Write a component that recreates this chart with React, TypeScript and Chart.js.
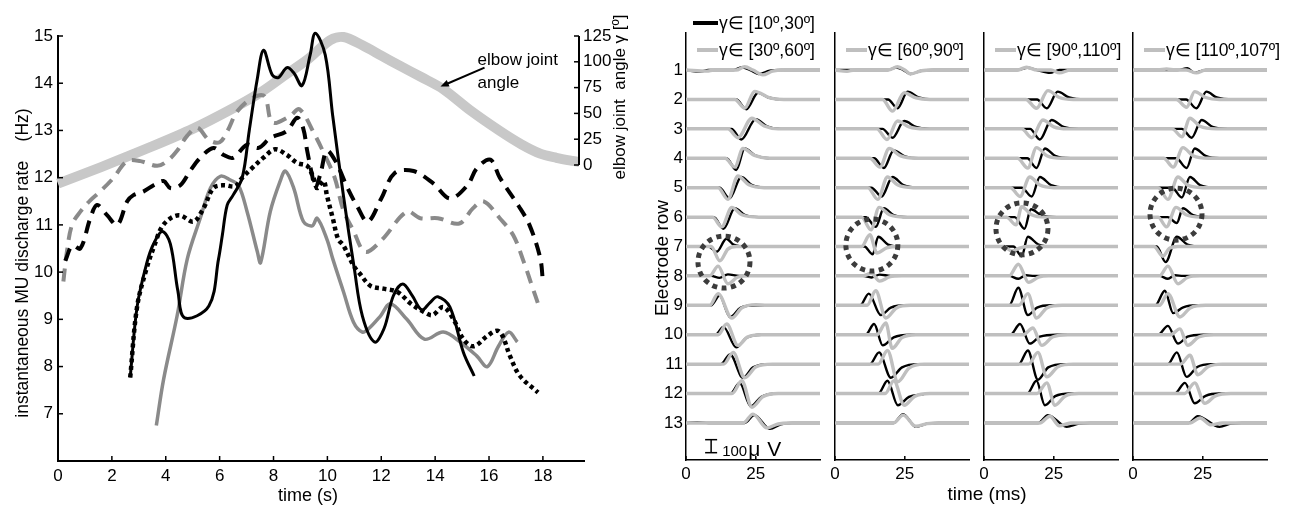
import React, { useEffect, useRef } from 'react';
import { Chart, registerables } from 'chart.js';

Chart.register(...registerables);

const FONT = "'Liberation Sans', Arial, Helvetica, sans-serif";

// ---------------- Left panel: discharge rates + elbow angle ----------------
const TIME_TICKS = [0, 2, 4, 6, 8, 10, 12, 14, 16, 18];
const RATE_TICKS = [7, 8, 9, 10, 11, 12, 13, 14, 15];
const ANGLE_TICKS = [0, 25, 50, 75, 100, 125];

const T_BLACK_SOLID = [2.68, 2.94, 3.3, 3.55, 3.87, 4.17, 4.45, 4.7, 5.6, 5.96, 6.1, 6.28, 6.5, 6.84, 7.1, 7.4, 7.63, 7.95, 8.18, 8.5, 8.75, 9.06, 9.36, 9.55, 9.92, 10.2, 10.6, 11.0, 11.3, 11.75, 12.1, 12.45, 12.8, 13.15, 13.5, 13.8, 14.1, 14.55, 15.05, 15.45];
const V_BLACK_SOLID = [7.77, 9.28, 10.2, 10.6, 10.86, 10.6, 9.6, 9.03, 9.28, 10.28, 10.78, 11.42, 11.63, 12.0, 13.0, 14.1, 14.7, 14.18, 14.12, 14.33, 14.22, 13.95, 14.6, 15.06, 14.6, 13.3, 11.6, 10.07, 9.07, 8.52, 8.8, 9.5, 9.75, 9.5, 9.2, 9.35, 9.48, 9.26, 8.3, 7.8];

const T_GRAY_SOLID = [3.65, 3.92, 4.42, 4.8, 5.28, 5.66, 6.03, 6.4, 6.7, 7.02, 7.4, 7.52, 7.88, 8.25, 8.44, 8.75, 9.11, 9.44, 9.62, 9.98, 10.2, 10.6, 10.97, 11.3, 11.53, 11.97, 12.34, 12.95, 13.6, 14.3, 14.93, 15.55, 15.94, 16.35, 16.73, 17.05];
const V_GRAY_SOLID = [6.75, 7.73, 9.07, 10.28, 11.14, 11.78, 12.03, 11.95, 11.84, 11.28, 10.43, 10.2, 11.28, 11.93, 12.14, 11.78, 11.07, 10.98, 11.14, 10.7, 10.28, 9.58, 8.94, 8.73, 8.8, 9.07, 9.33, 9.0, 8.58, 8.73, 8.52, 8.22, 8.0, 8.43, 8.73, 8.52];

const T_BLACK_DOTTED = [2.68, 2.94, 3.3, 3.6, 3.85, 4.2, 4.54, 5.03, 5.4, 5.77, 6.15, 6.58, 6.84, 7.2, 7.62, 8.06, 8.5, 8.88, 9.25, 9.48, 9.62, 9.86, 9.98, 10.2, 10.4, 10.6, 10.97, 11.2, 11.6, 12.08, 12.6, 13.1, 13.57, 13.9, 14.3, 14.68, 15.05, 15.43, 15.94, 16.3, 16.5, 16.78, 17.15, 17.82];
const V_BLACK_DOTTED = [7.77, 9.28, 10.1, 10.6, 10.95, 11.15, 11.2, 11.07, 11.35, 11.78, 11.84, 11.82, 12.0, 12.2, 12.42, 12.6, 12.48, 12.31, 12.25, 12.0, 11.78, 11.93, 11.63, 11.14, 10.7, 10.56, 10.14, 9.97, 9.71, 9.65, 9.58, 9.33, 9.16, 9.09, 9.26, 9.0, 8.58, 8.43, 8.65, 8.76, 8.65, 8.22, 7.8, 7.45];

const T_BLACK_DASHED = [0.27, 0.53, 0.83, 1.2, 1.45, 1.83, 2.2, 2.57, 2.8, 3.18, 3.55, 3.92, 4.17, 4.54, 4.9, 5.28, 5.77, 6.15, 6.5, 7.02, 7.44, 7.88, 8.5, 8.88, 9.1, 9.25, 9.43, 9.55, 9.75, 9.98, 10.3, 10.75, 11.1, 11.5, 12.0, 12.5, 13.2, 13.93, 14.55, 15.2, 15.55, 16.05, 16.4, 17.1, 17.5, 17.9, 18.0];
const V_BLACK_DASHED = [10.24, 10.56, 10.5, 11.14, 11.42, 11.2, 11.0, 11.5, 11.63, 11.71, 11.84, 11.93, 11.78, 11.84, 12.14, 12.42, 12.63, 12.48, 12.42, 12.7, 12.63, 12.84, 12.99, 13.27, 13.05, 12.57, 12.06, 11.78, 12.1, 12.57, 12.35, 11.78, 11.4, 11.07, 11.56, 12.1, 12.14, 11.88, 11.56, 11.84, 12.2, 12.38, 12.0, 11.4, 11.0, 10.3, 9.8];

const T_GRAY_DASHED = [0.2, 0.33, 0.52, 0.83, 1.2, 1.57, 2.05, 2.57, 3.06, 3.68, 4.05, 4.42, 4.8, 5.17, 5.6, 6.0, 6.3, 6.65, 7.25, 7.67, 7.96, 8.6, 8.96, 9.52, 9.9, 10.27, 10.6, 10.95, 11.4, 12.0, 12.95, 13.45, 14.1, 14.9, 15.4, 15.8, 16.4, 16.9, 17.3, 17.6, 17.85];
const V_GRAY_DASHED = [9.8, 10.43, 11.0, 11.28, 11.52, 11.71, 11.99, 12.35, 12.35, 12.25, 12.35, 12.57, 12.89, 13.06, 12.8, 12.75, 13.0, 13.4, 13.7, 13.72, 13.17, 13.3, 13.45, 12.92, 12.48, 12.0, 11.3, 10.9, 10.43, 10.67, 11.28, 11.14, 11.14, 11.03, 11.35, 11.5, 11.14, 10.78, 10.2, 9.7, 9.28];

const T_ELBOW = [0, 1.6, 3.4, 5, 6.5, 7.5, 8.37, 9.3, 10.1, 10.6, 11.3, 12.0, 12.7, 13.5, 14.3, 15.3, 16.4, 17.2, 17.9, 18.5, 19.1, 19.35];
const V_ELBOW = [-18, -2, 17, 35, 55, 70, 86, 103, 121, 124, 116, 106, 96, 85, 73.5, 53, 33, 20, 11, 7, 4, 3];

// ---------------- Right panel: MUAP waveforms per electrode row ----------------
const ROW_LABELS = [1, 2, 3, 4, 5, 6, 7, 8, 9, 10, 11, 12, 13];
const MS_TICKS = [0, 25];
const UV_PER_ROW = 226;
const SCALE_BAR_UV = 100;
const SCALE_BAR_T = 9;
const SCALE_BAR_ROW = 13.79;

const LEGEND_TEXT = [
  ['γ∈ [10º,30º]', 'γ∈ [30º,60º]'],
  ['γ∈ [60º,90º]'],
  ['γ∈ [90º,110º]'],
  ['γ∈ [110º,107º]'],
];

const CIRCLE_T = [13.6, 13.2, 13.6, 15.4];
const CIRCLE_ROW = [7.53, 6.95, 6.4, 5.9];

// each waveform: flat list of (time ms, amplitude µV) pairs
const BLACK_WAVES_1 = [
  [0, 0, 5, -12, 8, 0, 17, 0, 20, 22, 23, 0, 26, -30, 30, -5, 34, 0, 48, 0],
  [0, 0, 18, 0, 21.6, -75, 25.8, 52, 29.5, 15, 35, 0, 48, 0],
  [0, 0, 16.3, 0, 19.8, -82, 25, 75, 29, 20, 34, 0, 48, 0],
  [0, 0, 14.5, 0, 18, -90, 21, 75, 25, 20, 30, 0, 48, 0],
  [0, 0, 12, 0, 15.6, -82, 19.8, 82, 23.5, 22, 29, 0, 48, 0],
  [0, 0, 10, 0, 13.4, -90, 17.5, 68, 21, 18, 26, 0, 48, 0],
  [0, 0, 8, 0, 11, -40, 14.5, 60, 17, 15, 22, 0, 48, 0],
  [0, 0, 9, 0, 12, -15, 15, 12, 19, 0, 48, 0],
  [0, 0, 9, 0, 12, 75, 15.8, -90, 19.5, -20, 25, 0, 48, 0],
  [0, 0, 10.5, 0, 13.4, 60, 18, -97, 21.5, -25, 27, 0, 48, 0],
  [0, 0, 12.5, 0, 15.8, 75, 20.4, -105, 24, -25, 30, 0, 48, 0],
  [0, 0, 16, 0, 19.2, 82, 23.2, -98, 27, -25, 33, 0, 48, 0],
  [0, 0, 4, 5, 8, 0, 21, 0, 24.5, 60, 30, -45, 34, -10, 38, 0, 48, 0],
];
const GRAY_WAVES_1 = [
  [0, 0, 7.5, -8, 10, 0, 18, 0, 21, 25, 24, 0, 27.5, -37, 31, -8, 35, 0, 48, 0],
  [0, 0, 17.5, 0, 21, -67, 24.6, 62, 30, 12, 35, 0, 48, 0],
  [0, 0, 15, 0, 18.6, -68, 23.6, 82, 28, 22, 33, 0, 48, 0],
  [0, 0, 14, 0, 17.5, -68, 20.4, 75, 24.5, 22, 30, 0, 48, 0],
  [0, 0, 11.5, 0, 15, -90, 18.6, 90, 22.5, 22, 28, 0, 48, 0],
  [0, 0, 9.5, 0, 12.8, -75, 16.4, 75, 20, 18, 26, 0, 48, 0],
  [0, 0, 9, 0, 12.1, -110, 15, -20, 18, 0, 48, 0],
  [0, 0, 8.5, 0, 11.5, 75, 15, -60, 18.5, -10, 23, 0, 48, 0],
  [0, 0, 8.5, 0, 11.5, 90, 16.4, -98, 20, -20, 25, 5, 29, 0, 48, 0],
  [0, 0, 11.5, 0, 14.6, 82, 18.6, -82, 22, -18, 27, 0, 48, 0],
  [0, 0, 13.5, 0, 16.9, 90, 21, -105, 25, -22, 31, 0, 48, 0],
  [0, 0, 16.5, 0, 20, 98, 23.6, -105, 27.5, -25, 33, 0, 48, 0],
  [0, 0, 20.5, 0, 24, 68, 29, -38, 33, -8, 37, 0, 48, 0],
];
const BLACK_WAVES_2 = [
  [0, 0, 19, 0, 22, 20, 24.5, 0, 27, -30, 31, -5, 35, 0, 48, 0],
  [0, 0, 19, 0, 22.4, -68, 26, 60, 30, 15, 35, 0, 48, 0],
  [0, 0, 17, 0, 20.6, -68, 24.8, 60, 29, 15, 34, 0, 48, 0],
  [0, 0, 14, 0, 17.5, -75, 21, 60, 25, 15, 30, 0, 48, 0],
  [0, 0, 13, 0, 16.7, -68, 20.6, 82, 24.5, 20, 30, 0, 48, 0],
  [0, 0, 11, 0, 14.6, -75, 17.5, 68, 21, 15, 26, 0, 48, 0],
  [0, 0, 10.5, 0, 13.5, -60, 15.5, 75, 19, 15, 24, 0, 48, 0],
  [0, 0, 10, 0, 13, -12, 16, 10, 20, 0, 48, 0],
  [0, 0, 9, 0, 12.1, 90, 16.4, -75, 20, -18, 26, 0, 48, 0],
  [0, 0, 11, 0, 14, 82, 17.1, -82, 21, -20, 27, 0, 48, 0],
  [0, 0, 12.5, 0, 15.8, 90, 20, -105, 24, -25, 30, 0, 48, 0],
  [0, 0, 15.5, 0, 18.8, 98, 22.5, -90, 26.5, -25, 31.5, -6],
  [0, 0, 21, 0, 24.4, 68, 29, -30, 33, -5, 37, 0, 48, 0],
];
const GRAY_WAVES_2 = [
  [0, 0, 4.3, -10, 7, 0, 19, 0, 22.4, 25, 25, 0, 27, -30, 31, -5, 35, 0, 48, 0],
  [0, 0, 17, 0, 20.6, -90, 24.8, 52, 29, 12, 34, 0, 48, 0],
  [0, 0, 15, 0, 18.6, -82, 22.4, 60, 26.5, 15, 32, 0, 48, 0],
  [0, 0, 12.5, 0, 16.1, -68, 19.4, 75, 23.5, 18, 29, 0, 48, 0],
  [0, 0, 11.8, 0, 15.3, -90, 18.8, 82, 22.5, 20, 28, 0, 48, 0],
  [0, 0, 9.5, 0, 12.9, -98, 15.8, 75, 19.5, 18, 25, 0, 48, 0],
  [0, 0, 9.5, 0, 12.5, 90, 15, -50, 18.5, -10, 23, 0, 48, 0],
  [0, 0, 10, 0, 13, 20, 16, -40, 19.5, -8, 24, 0, 48, 0],
  [0, 0, 11.5, 0, 14.6, 112, 18.2, -98, 22, -20, 27, 0, 48, 0],
  [0, 0, 15, 0, 18.2, 90, 20.5, -105, 24, -22, 29, 0, 48, 0],
  [0, 0, 15.5, 0, 18.8, 105, 22.5, -135, 26.5, -30, 32, 0, 48, 0],
  [0, 0, 18, 0, 21.1, 98, 24.8, -90, 28.5, -22, 34, 0, 48, 0],
  [0, 0, 21, 0, 24.4, 60, 29, -25, 33, -5, 37, 0, 48, 0],
];
const BLACK_WAVES_3 = [
  [0, 0, 12, 0, 15.5, 18, 19, 0, 23.6, -22, 27, 0, 48, 0],
  [0, 0, 19, 0, 22.5, -68, 26.4, 60, 30.5, 15, 36, 0, 48, 0],
  [0, 0, 16.5, 0, 20, -82, 24.2, 68, 28.5, 15, 34, 0, 48, 0],
  [0, 0, 15.5, 0, 18.8, -75, 21.8, 75, 25.5, 18, 31, 0, 48, 0],
  [0, 0, 13.5, 0, 17.1, -68, 20, 82, 24, 20, 29, 0, 48, 0],
  [0, 0, 11, 0, 14.5, -90, 16.8, 60, 20.5, 15, 26, 0, 48, 0],
  [0, 0, 10.5, 0, 13.5, -75, 15.7, 75, 19.5, 15, 25, 0, 48, 0],
  [0, 0, 9, 0, 12.3, -22, 15, 5, 18, 0, 48, 0],
  [0, 0, 9, 0, 12.3, 135, 15.7, -75, 19, -18, 24, 0, 48, 0],
  [0, 0, 9.5, 0, 12.9, 82, 16.4, -68, 20, -15, 26, 0, 48, 0],
  [0, 0, 12.5, 0, 15.7, 105, 19.3, -120, 23, -25, 29, 0, 48, 0],
  [0, 0, 15.5, 0, 18.8, 98, 21.8, -90, 25.5, -20, 31, 0, 48, 0],
  [0, 0, 19.5, 0, 22.9, 60, 29.6, -30, 34, -5, 38, 0, 48, 0],
];
const GRAY_WAVES_3 = [
  [0, 0, 12, 0, 15.2, 22, 19, 0, 24, 0, 27, -22, 31, 0, 48, 0],
  [0, 0, 15, 0, 18.8, -68, 22.9, 68, 27, 15, 32, 0, 48, 0],
  [0, 0, 13.5, 0, 17.1, -68, 21.1, 68, 25, 15, 30, 0, 48, 0],
  [0, 0, 12, 0, 15.7, -75, 18.8, 82, 22.5, 20, 28, 0, 48, 0],
  [0, 0, 9.5, 0, 12.9, -68, 16.4, 82, 20, 20, 25, 0, 48, 0],
  [0, 0, 8, 0, 11.5, -60, 13.5, 80, 17, 18, 22, 0, 48, 0],
  [0, 0, 7, 0, 10, -35, 13, -10, 16, 0, 48, 0],
  [0, 0, 9, 0, 12.3, 90, 16, -50, 19.5, -10, 23, 0, 48, 0],
  [0, 0, 12.5, 0, 15.7, 90, 18.8, -98, 22.5, -20, 28, 0, 48, 0],
  [0, 0, 14, 0, 17.5, 52, 20.7, -82, 24.5, -18, 30, 0, 48, 0],
  [0, 0, 16, 0, 19.3, 90, 22.5, -98, 26.5, -20, 32, 0, 48, 0],
  [0, 0, 19, 0, 22.5, 82, 25.4, -90, 29, -20, 34, 0, 48, 0],
  [0, 0, 20, 0, 23.6, 52, 27, -22, 31, 0, 48, 0],
];
const BLACK_WAVES_4 = [
  [0, 0, 16, 0, 19.5, 15, 22, -22, 26, 0, 48, 0],
  [0, 0, 19, 0, 22.7, -68, 26.3, 60, 30, 15, 36, 0, 48, 0],
  [0, 0, 17.5, 0, 21, -68, 24.6, 68, 28.5, 15, 34, 0, 48, 0],
  [0, 0, 15.5, 0, 19.2, -75, 22.1, 75, 26, 18, 31, 0, 48, 0],
  [0, 0, 14, 0, 17.5, -75, 20.4, 82, 24, 20, 29, 0, 48, 0],
  [0, 0, 12.5, 0, 15.7, -45, 17.9, 68, 21.5, 15, 27, 0, 48, 0],
  [0, 0, 8.5, 0, 11.7, -120, 15.7, 75, 19.5, 15, 25, 0, 48, 0],
  [0, 0, 9.5, 0, 12.5, -22, 15, 5, 18, 0, 48, 0],
  [0, 0, 8, 0, 11.4, 112, 14.4, -60, 18, -15, 23, 0, 48, 0],
  [0, 0, 9, 0, 12.5, 68, 16.1, -68, 19.5, -15, 25, 0, 48, 0],
  [0, 0, 12.5, 0, 15.7, 90, 19.2, -98, 23, -22, 28, 0, 48, 0],
  [0, 0, 15, 0, 18.6, 82, 22.1, -75, 26, -18, 31, 0, 48, 0],
  [0, 0, 20, 0, 23.2, 52, 31, -30, 35, -5, 39, 0, 48, 0],
];
const GRAY_WAVES_4 = [
  [0, 0, 9, 0, 12, 8, 15, 0, 19, 0, 22.7, -22, 26, 0, 48, 0],
  [0, 0, 15.5, 0, 19.2, -60, 22.1, 60, 26, 15, 31, 0, 48, 0],
  [0, 0, 14, 0, 17.5, -60, 20.4, 82, 24, 20, 30, 0, 48, 0],
  [0, 0, 11, 0, 14.4, -68, 17.9, 82, 21.5, 20, 27, 0, 48, 0],
  [0, 0, 9, 0, 12.5, -90, 16.1, 82, 19.5, 20, 25, 0, 48, 0],
  [0, 0, 9, 0, 12, -75, 15.4, 75, 19, 18, 24, 0, 48, 0],
  [0, 0, 7.5, 0, 10.7, -75, 13, -15, 16, 0, 48, 0],
  [0, 0, 9.5, 0, 12.5, 75, 16.1, -60, 19.5, -12, 24, 0, 48, 0],
  [0, 0, 9.5, 0, 12.5, 90, 16.8, -90, 20.5, -20, 26, 0, 48, 0],
  [0, 0, 13.5, 0, 16.8, 45, 19.6, -82, 23.5, -18, 29, 0, 48, 0],
  [0, 0, 17, 0, 20.4, 68, 23.2, -82, 27, -18, 32, 0, 48, 0],
  [0, 0, 18.5, 0, 22.1, 82, 25.7, -75, 29.5, -18, 35, 0, 48, 0],
  [0, 0, 20.5, 0, 24, 38, 28, -15, 32, 0, 48, 0],
];

const BLACK_WAVES = [BLACK_WAVES_1, BLACK_WAVES_2, BLACK_WAVES_3, BLACK_WAVES_4];
const GRAY_WAVES = [GRAY_WAVES_1, GRAY_WAVES_2, GRAY_WAVES_3, GRAY_WAVES_4];

// ---------------- layout (page pixels) ----------------
const W = 1289;
const H = 506;
const L_LEFT = 58;
const L_RIGHT = 579;
const L_TOP = 36;
const L_BOTTOM = 461;
const TIME_MAX = 19.34;
const ANGLE_MAX = 125;
const ANGLE_MIN = 125 - (L_BOTTOM - L_TOP) / (129 / 125);

const SUB_LEFT = [686, 835, 984, 1133];
const SUB_W = 134;
const SUB_TOP = 33;
const SUB_BOTTOM = 460;
const MS_MAX = 48;

const GRAY_LIGHT = '#bfbfbf';
const GRAY_MID = '#8a8a8a';

function pairs(ts: number[], vs: number[]) {
  return ts.map((t, i) => ({ x: t, y: vs[i] }));
}

function wavePoints(flat: number[], row: number) {
  const out: { x: number; y: number }[] = [];
  for (let i = 0; i < flat.length; i += 2) {
    out.push({ x: flat[i], y: row - flat[i + 1] / UV_PER_ROW });
  }
  return out;
}

function seg(ctx: CanvasRenderingContext2D, x1: number, y1: number, x2: number, y2: number) {
  ctx.beginPath();
  ctx.moveTo(x1, y1);
  ctx.lineTo(x2, y2);
  ctx.stroke();
}

function rotText(ctx: CanvasRenderingContext2D, text: string, x: number, y: number, font: string) {
  ctx.save();
  ctx.translate(x, y);
  ctx.rotate(-Math.PI / 2);
  ctx.font = font;
  ctx.textAlign = 'center';
  ctx.textBaseline = 'middle';
  ctx.fillText(text, 0, 0);
  ctx.restore();
}

const leftDecor = {
  id: 'leftDecor',
  afterDraw(chart: any) {
    const { ctx, chartArea: a, scales } = chart;
    const xs = scales.x, ys = scales.y, y1 = scales.y1;
    ctx.save();
    ctx.strokeStyle = '#000';
    ctx.fillStyle = '#000';
    ctx.lineWidth = 1.5;
    TIME_TICKS.forEach((v) => {
      const px = xs.getPixelForValue(v);
      seg(ctx, px, a.bottom, px, a.bottom - 5);
    });
    RATE_TICKS.forEach((v) => {
      const py = ys.getPixelForValue(v);
      seg(ctx, a.left, py, a.left + 5, py);
    });
    ctx.lineWidth = 2;
    seg(ctx, a.right, y1.getPixelForValue(0), a.right, y1.getPixelForValue(ANGLE_MAX));
    seg(ctx, a.right, a.bottom, a.right + 6, a.bottom);
    ctx.lineWidth = 1.5;
    ANGLE_TICKS.forEach((v) => {
      const py = y1.getPixelForValue(v);
      seg(ctx, a.right, py, a.right - 5, py);
    });

    // axis titles
    ctx.font = `18px ${FONT}`;
    ctx.textAlign = 'center';
    ctx.textBaseline = 'middle';
    ctx.fillText('time (s)', 308, 496);
    rotText(ctx, 'instantaneous MU discharge rate    (Hz)', 23, 263, `17.5px ${FONT}`);
    rotText(ctx, 'elbow joint  angle γ [º]', 620, 97, `17px ${FONT}`);

    // annotation with arrow
    const tipX = xs.getPixelForValue(14.2);
    const tipY = y1.getPixelForValue(76);
    const tailX = tipX + 44;
    const tailY = tipY - 19;
    ctx.lineWidth = 2;
    seg(ctx, tailX, tailY, tipX + 6, tipY - 2.6);
    const ang = Math.atan2(tipY - tailY, tipX - tailX);
    ctx.beginPath();
    ctx.moveTo(tipX, tipY);
    ctx.lineTo(tipX - 9 * Math.cos(ang - 0.4), tipY - 9 * Math.sin(ang - 0.4));
    ctx.lineTo(tipX - 9 * Math.cos(ang + 0.4), tipY - 9 * Math.sin(ang + 0.4));
    ctx.closePath();
    ctx.fill();
    ctx.font = `17px ${FONT}`;
    ctx.textAlign = 'left';
    ctx.fillText('elbow joint', tipX + 37, tipY - 26);
    ctx.fillText('angle', tipX + 37, tipY - 3);
    ctx.restore();
  },
};

function makeLeft(canvas: HTMLCanvasElement) {
  const common = { pointRadius: 0, fill: false, tension: 0.35, clip: false };
  return new Chart(canvas, {
    type: 'line',
    data: {
      datasets: [
        { ...common, data: pairs(T_ELBOW, V_ELBOW), yAxisID: 'y1', borderColor: '#c8c8c8', borderWidth: 10, order: 10, tension: 0.3 },
        { ...common, data: pairs(T_GRAY_SOLID, V_GRAY_SOLID), yAxisID: 'y', borderColor: GRAY_MID, borderWidth: 3.5, order: 5 },
        { ...common, data: pairs(T_GRAY_DASHED, V_GRAY_DASHED), yAxisID: 'y', borderColor: GRAY_MID, borderWidth: 4, borderDash: [13, 8], order: 4 },
        { ...common, data: pairs(T_BLACK_DASHED, V_BLACK_DASHED), yAxisID: 'y', borderColor: '#000', borderWidth: 4, borderDash: [13, 8], order: 3 },
        { ...common, data: pairs(T_BLACK_DOTTED, V_BLACK_DOTTED), yAxisID: 'y', borderColor: '#000', borderWidth: 4.5, borderDash: [4, 3.5], order: 2 },
        { ...common, data: pairs(T_BLACK_SOLID, V_BLACK_SOLID), yAxisID: 'y', borderColor: '#000', borderWidth: 3, order: 1 },
      ] as any,
    },
    options: {
      responsive: false,
      animation: false,
      events: [],
      layout: { padding: { left: 0, right: W - L_RIGHT - 61, top: L_TOP, bottom: 0 } },
      plugins: { legend: { display: false }, tooltip: { enabled: false } },
      scales: {
        x: {
          type: 'linear',
          min: 0,
          max: TIME_MAX,
          afterFit: (s: any) => { s.height = H - L_BOTTOM; },
          afterBuildTicks: (s: any) => { s.ticks = TIME_TICKS.map((v) => ({ value: v })); },
          grid: { display: false, drawTicks: false },
          border: { display: true, color: '#000', width: 2 },
          ticks: { color: '#000', font: { size: 17 }, padding: 5, maxRotation: 0, autoSkip: false },
        },
        y: {
          type: 'linear',
          position: 'left',
          min: 6,
          max: 15,
          afterFit: (s: any) => { s.width = L_LEFT; },
          afterBuildTicks: (s: any) => { s.ticks = RATE_TICKS.map((v) => ({ value: v })); },
          grid: { display: false, drawTicks: false },
          border: { display: true, color: '#000', width: 2 },
          ticks: { color: '#000', font: { size: 17 }, padding: 5, autoSkip: false },
        },
        y1: {
          type: 'linear',
          position: 'right',
          min: ANGLE_MIN,
          max: ANGLE_MAX,
          afterFit: (s: any) => { s.width = 61; },
          afterBuildTicks: (s: any) => { s.ticks = ANGLE_TICKS.map((v) => ({ value: v })); },
          grid: { display: false, drawTicks: false },
          border: { display: false },
          ticks: { color: '#000', font: { size: 17 }, padding: 4, autoSkip: false },
        },
      },
    } as any,
    plugins: [leftDecor],
  });
}

function makeSubDecor(i: number) {
  return {
    id: 'subDecor' + i,
    afterDraw(chart: any) {
      const { ctx, chartArea: a, scales } = chart;
      const xs = scales.x, ys = scales.y;
      const L = SUB_LEFT[i];
      ctx.save();
      ctx.strokeStyle = '#000';
      ctx.fillStyle = '#000';
      ctx.lineWidth = 1.5;
      MS_TICKS.forEach((v) => {
        const px = xs.getPixelForValue(v);
        seg(ctx, px, a.bottom, px, a.bottom - 4);
      });

      // dotted circle
      ctx.save();
      ctx.strokeStyle = '#3c3c3c';
      ctx.lineWidth = 5;
      ctx.setLineDash([5, 4.5]);
      ctx.beginPath();
      ctx.arc(xs.getPixelForValue(CIRCLE_T[i]), ys.getPixelForValue(CIRCLE_ROW[i]), 26, 0, Math.PI * 2);
      ctx.stroke();
      ctx.restore();

      // legend entries
      ctx.font = `17.5px ${FONT}`;
      ctx.textAlign = 'left';
      ctx.textBaseline = 'middle';
      const items = LEGEND_TEXT[i];
      items.forEach((txt, k) => {
        const isBlack = i === 0 && k === 0;
        const y = isBlack ? 23 : 50;
        const x1 = isBlack ? L + 7 : L + 11;
        ctx.strokeStyle = isBlack ? '#000' : GRAY_LIGHT;
        ctx.lineWidth = 4;
        seg(ctx, x1, y, L + 32, y);
        ctx.fillStyle = '#000';
        ctx.fillText(txt, L + 33, y + 1);
      });

      if (i === 0) {
        // scale bar
        const bx = xs.getPixelForValue(SCALE_BAR_T);
        const half = SCALE_BAR_UV / 2 / UV_PER_ROW;
        const yTop = ys.getPixelForValue(SCALE_BAR_ROW - half);
        const yBot = ys.getPixelForValue(SCALE_BAR_ROW + half);
        ctx.strokeStyle = '#000';
        ctx.lineWidth = 1.5;
        seg(ctx, bx, yTop, bx, yBot);
        seg(ctx, bx - 6, yTop, bx + 6, yTop);
        seg(ctx, bx - 6, yBot, bx + 6, yBot);
        ctx.textBaseline = 'alphabetic';
        ctx.font = `15px ${FONT}`;
        ctx.fillText(String(SCALE_BAR_UV), bx + 11, yBot + 3);
        ctx.font = `21px ${FONT}`;
        ctx.fillText('μ', bx + 37, yBot + 3);
        ctx.fillText('V', bx + 56, yBot + 3);

        rotText(ctx, 'Electrode row', 663, 258, `19px ${FONT}`);
        ctx.font = `19px ${FONT}`;
        ctx.textAlign = 'center';
        ctx.textBaseline = 'middle';
        ctx.fillText('time (ms)', 987, 495);
      }
      ctx.restore();
    },
  };
}

function makeSub(canvas: HTMLCanvasElement, i: number) {
  const datasets: any[] = [];
  GRAY_WAVES[i].forEach((w, r) => {
    datasets.push({ data: wavePoints(w, ROW_LABELS[r]), borderColor: GRAY_LIGHT, borderWidth: 3.4, order: 0 });
  });
  BLACK_WAVES[i].forEach((w, r) => {
    datasets.push({ data: wavePoints(w, ROW_LABELS[r]), borderColor: '#000', borderWidth: 2.4, order: 1 });
  });
  datasets.forEach((d) => {
    d.pointRadius = 0;
    d.fill = false;
    d.cubicInterpolationMode = 'monotone';
    d.borderJoinStyle = 'round';
    d.borderCapStyle = 'round';
  });
  const yw = i === 0 ? 40 : 1;
  return new Chart(canvas, {
    type: 'line',
    data: { datasets },
    options: {
      responsive: false,
      animation: false,
      events: [],
      layout: { padding: { left: SUB_LEFT[i] - yw, right: W - SUB_LEFT[i] - SUB_W, top: SUB_TOP, bottom: H - SUB_BOTTOM - 30 } },
      plugins: { legend: { display: false }, tooltip: { enabled: false } },
      scales: {
        x: {
          type: 'linear',
          min: 0,
          max: MS_MAX,
          afterFit: (s: any) => { s.height = 30; },
          afterBuildTicks: (s: any) => { s.ticks = MS_TICKS.map((v) => ({ value: v })); },
          grid: { display: false, drawTicks: false },
          border: { display: true, color: '#000', width: 1.5 },
          ticks: { color: '#000', font: { size: 17 }, padding: 4, maxRotation: 0, autoSkip: false },
        },
        y: {
          type: 'linear',
          reverse: true,
          min: -0.26,
          max: 14.26,
          afterFit: (s: any) => { s.width = yw; },
          afterBuildTicks: (s: any) => { s.ticks = ROW_LABELS.map((v) => ({ value: v })); },
          grid: { display: false, drawTicks: false },
          border: { display: true, color: '#000', width: 1.5 },
          ticks: { display: i === 0, color: '#000', font: { size: 17 }, padding: 3, autoSkip: false },
        },
      },
    } as any,
    plugins: [makeSubDecor(i)],
  });
}

export default function App() {
  const leftRef = useRef<HTMLCanvasElement>(null);
  const s0 = useRef<HTMLCanvasElement>(null);
  const s1 = useRef<HTMLCanvasElement>(null);
  const s2 = useRef<HTMLCanvasElement>(null);
  const s3 = useRef<HTMLCanvasElement>(null);

  useEffect(() => {
    Chart.defaults.font.family = FONT;
    Chart.defaults.color = '#000';
    const charts: Chart[] = [];
    if (leftRef.current) charts.push(makeLeft(leftRef.current));
    [s0, s1, s2, s3].forEach((r, i) => {
      if (r.current) charts.push(makeSub(r.current, i));
    });
    return () => charts.forEach((c) => c.destroy());
  }, []);

  const cs: React.CSSProperties = { position: 'absolute', left: 0, top: 0 };
  return (
    <div style={{ position: 'fixed', left: 0, top: 0, width: W, height: H, background: '#fff', overflow: 'hidden' }}>
      <canvas ref={leftRef} width={W} height={H} style={cs} />
      <canvas ref={s0} width={W} height={H} style={cs} />
      <canvas ref={s1} width={W} height={H} style={cs} />
      <canvas ref={s2} width={W} height={H} style={cs} />
      <canvas ref={s3} width={W} height={H} style={cs} />
    </div>
  );
}
